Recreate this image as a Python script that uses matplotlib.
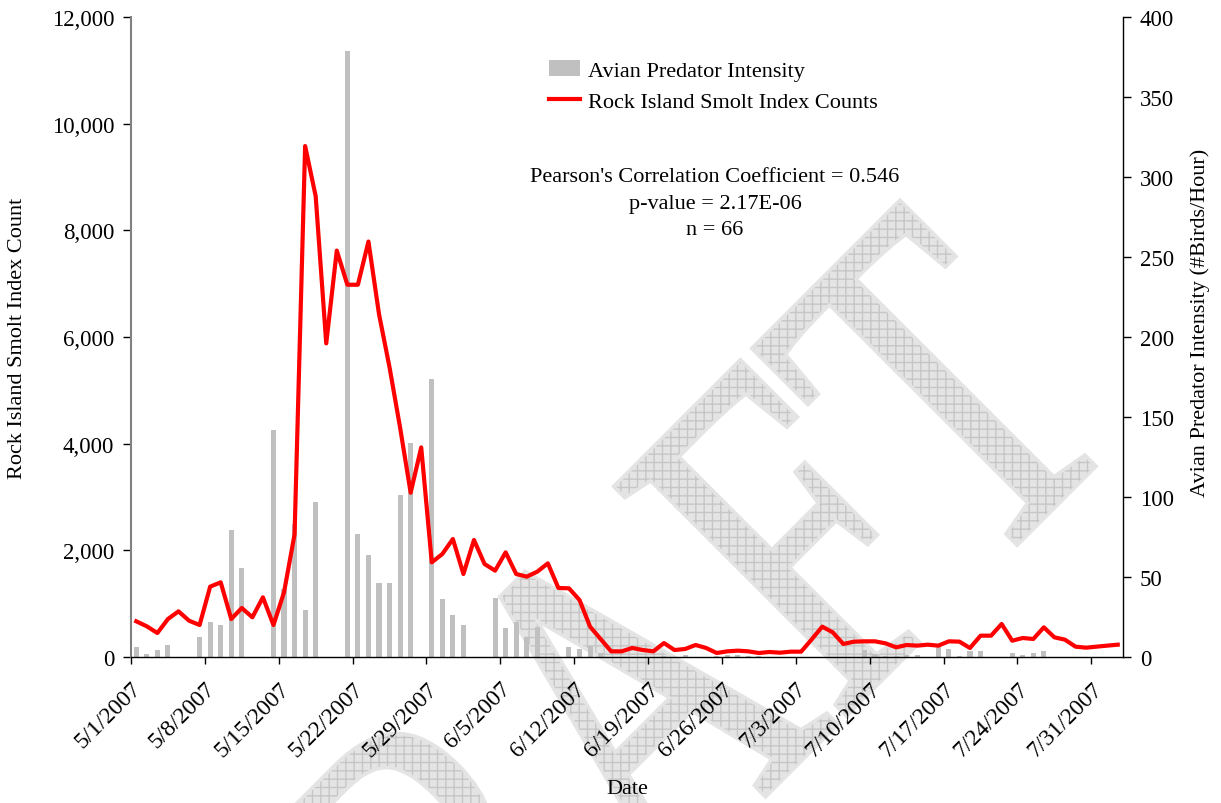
import numpy as np
import pandas as pd
import matplotlib
matplotlib.use('Agg')
import matplotlib.pyplot as plt
import matplotlib.dates as mdates
from matplotlib.ticker import FuncFormatter, MultipleLocator
from matplotlib.textpath import TextPath
from matplotlib.patches import PathPatch, Patch
from matplotlib.lines import Line2D
from matplotlib.font_manager import FontProperties
from matplotlib.transforms import Affine2D

plt.rcParams['font.family'] = ['Liberation Serif', 'DejaVu Serif']
plt.rcParams['font.size'] = 16
plt.rcParams['hatch.linewidth'] = 1.0

# daily values, 5/1/2007 - 8/2/2007
dates = pd.date_range('2007-05-01', periods=94, freq='D')

smolt_counts = [
    669, 575, 450, 712, 856, 681, 600, 1319, 1400, 712,
    919, 744, 1119, 600, 1212, 2300, 9580, 8640, 5880, 7620,
    6980, 6980, 7790, 6430, 5430, 4300, 3080, 3930, 1775, 1931,
    2212, 1556, 2194, 1744, 1619, 1962, 1556, 1506, 1600, 1756,
    1294, 1288, 1069, 569, 337, 106, 106, 169, 131, 106,
    262, 131, 150, 225, 169, 75, 106, 119, 106, 75,
    94, 81, 100, 100, 330, 569, 462, 244, 287, 294,
    294, 256, 181, 225, 213, 231, 213, 294, 288, 169,
    400, 400, 619, 306, 356, 338, 556, 369, 325, 194,
    175, 194, 213, 231,
]

avian_intensity = [
    6.3, 1.9, 4.5, 7.6, 0, 0, 12.6, 21.9, 20, 79.4,
    55.6, 0, 0, 141.9, 42.5, 83, 29.5, 97, 0, 0,
    379, 77, 64, 46, 46, 101, 134, 0, 174, 36.5,
    26.3, 20, 0, 0, 36.9, 18.1, 21.9, 12.5, 18.8, 0,
    0, 6.3, 5, 6.9, 2.5, 0, 0, 0, 0, 0,
    0.6, 0, 1.2, 0, 0, 0.8, 1.2, 1.2, 0.6, 0.6,
    0, 0, 0, 0, 0, 0, 0, 0, 0, 4.6,
    1.9, 0.8, 0.8, 1.2, 1.0, 0, 6, 5, 0.8, 4,
    4, 0, 0, 2.5, 1.25, 2.5, 4, 0, 0, 0,
    0, 0, 0, 0,
]

tick_dates = dates[::7]
tick_labels = [f'{d.month}/{d.day}/{d.year}' for d in tick_dates]
stats_lines = ["Pearson's Correlation Coefficient = 0.546",
               'p-value = 2.17E-06',
               'n = 66']

W, H = 1221, 804
fig = plt.figure(figsize=(W / 100, H / 100), dpi=100)

# DRAFT watermark behind the plot (pixel coordinates, condensed serif)
prop = FontProperties(family='Liberation Serif')
tp = TextPath((0, 0), 'DRAFT', size=100, prop=prop)
wm_trans = (Affine2D()
            .scale(3.58, 4.94)
            .rotate_deg(45)
            .translate(303, H - 1258))
# thicken the strokes with an outline, then lay the hatched fill on top
wm_base = PathPatch(tp, transform=wm_trans, facecolor='#e4e4e4',
                    edgecolor='#e4e4e4', lw=5, zorder=-6)
wm = PathPatch(tp, transform=wm_trans, facecolor='#e4e4e4',
               edgecolor='#c6c6c6', lw=0, hatch='++', zorder=-5)
fig.add_artist(wm_base)
fig.add_artist(wm)

x = mdates.date2num(dates) + 0.5
x0 = mdates.date2num(dates[0])

ax = fig.add_axes([131 / W, (H - 658) / H, 992 / W, 640 / H])
ax2 = ax.twinx()

ax2.bar(x, avian_intensity, width=0.48, color='#c0c0c0', zorder=2)
ax.plot(x, smolt_counts, color='#ff0000', lw=3, zorder=3)

ax.set_zorder(ax2.get_zorder() + 1)
ax.patch.set_visible(False)
ax2.patch.set_visible(False)

ax.set_xlim(x0, x0 + 94)
ax.set_ylim(0, 12000)
ax2.set_ylim(0, 400)
ax.yaxis.set_major_locator(MultipleLocator(2000))
ax.yaxis.set_major_formatter(FuncFormatter(lambda v, p: f'{v:,.0f}'))
ax2.yaxis.set_major_locator(MultipleLocator(50))

ax.set_xticks(mdates.date2num(tick_dates))
ax.set_xticklabels(tick_labels, rotation=45, ha='right', va='top',
                   rotation_mode='anchor', fontsize=17)

for a in (ax, ax2):
    a.spines['top'].set_visible(False)
ax.spines['left'].set_color('#808080')
ax.spines['left'].set_linewidth(1.5)
ax.spines['right'].set_visible(False)
ax2.spines['left'].set_visible(False)
ax2.spines['bottom'].set_visible(False)
ax2.spines['right'].set_linewidth(1.0)
ax.spines['bottom'].set_linewidth(1.0)

ax.tick_params(axis='x', direction='out', length=5, width=1, pad=10)
ax.tick_params(axis='y', direction='out', length=6, width=1, pad=6,
               labelsize=16.5)
ax2.tick_params(axis='y', direction='out', length=6, width=1, pad=6,
                labelsize=16.5)

fig.text(18 / W, 1 - 338 / H, 'Rock Island Smolt Index Count',
         rotation=90, ha='center', va='center')
fig.text(1200 / W, 1 - 323 / H, 'Avian Predator Intensity (#Birds/Hour)',
         rotation=90, ha='center', va='center')
fig.text(627 / W, 1 - 790 / H, 'Date', ha='center', va='center')

fig.text(715 / W, 1 - 204 / H, '\n'.join(stats_lines),
         ha='center', va='center', multialignment='center', linespacing=1.55)

handles = [Patch(facecolor='#c0c0c0', edgecolor='none',
                 label='Avian Predator Intensity'),
           Line2D([], [], color='#ff0000', lw=3,
                  label='Rock Island Smolt Index Counts')]
fig.legend(handles=handles, loc='upper left',
           bbox_to_anchor=(549 / W, 1 - 61 / H), frameon=False,
           handlelength=1.4, handletextpad=0.35, labelspacing=0.5,
           borderpad=0, borderaxespad=0)

fig.savefig('out.png', dpi=100)
